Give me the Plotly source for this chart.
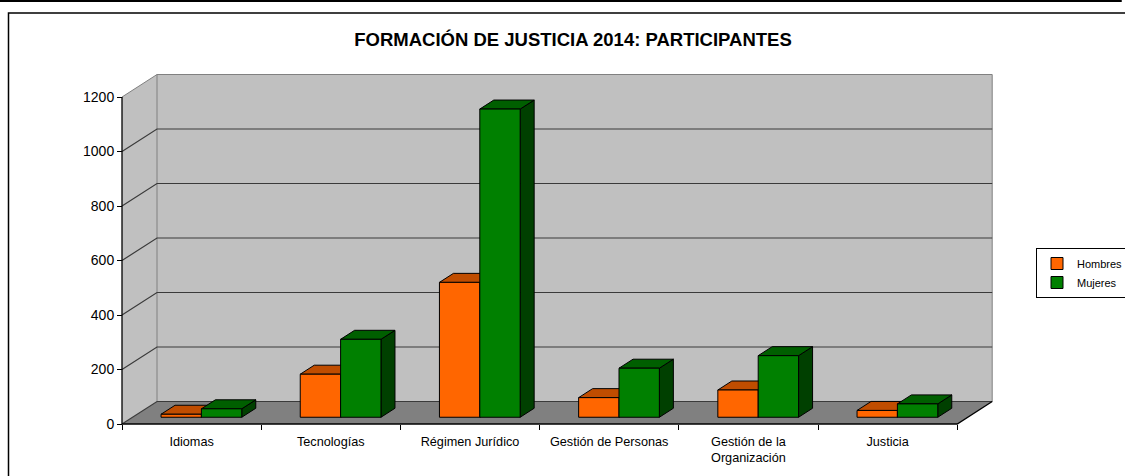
import plotly.graph_objects as go

# ---------------- data ----------------
categories = ["Idiomas", "Tecnologías", "Régimen Jurídico", "Gestión de Personas",
              "Gestión de la<br>Organización", "Justicia"]
series_names = ["Hombres", "Mujeres"]
hombres = [11, 158, 495, 72, 100, 25]
mujeres = [31, 286, 1131, 180, 226, 49]
y_ticks = [0, 200, 400, 600, 800, 1000, 1200]
title_text = "FORMACIÓN DE JUSTICIA 2014: PARTICIPANTES"

# ---------------- style / geometry ----------------
W, H = 1125, 476
PX_X = 139.2      # pixels per category
PX_Y = 0.2725     # pixels per unit
X0_PX, Y0_PX = 122, 424
PLOT_L, PLOT_R, PLOT_T, PLOT_B = 112, 1000, 60, 432
PW, PH = PLOT_R - PLOT_L, PLOT_B - PLOT_T

x_min = (PLOT_L - X0_PX) / PX_X
x_max = (PLOT_R - X0_PX) / PX_X
y_max = (Y0_PX - PLOT_T) / PX_Y
y_min = (Y0_PX - PLOT_B) / PX_Y

DX = 35 / PX_X
DY = 22.5 / PX_Y
YTOP = y_ticks[-1]
N = len(categories)

colors = {
    "Hombres": {"front": "#FF6600", "top": "#C04D00", "side": "#803300"},
    "Mujeres": {"front": "#008000", "top": "#005F00", "side": "#004000"},
}
FONT = "Liberation Sans, Arial, sans-serif"


def px2paper_x(px):
    return (px - PLOT_L) / PW


def px2paper_y(py):
    return (PLOT_B - py) / PH


fig = go.Figure()


def poly(xs, ys, fill, line_color=None, width=1):
    xs = list(xs) + [xs[0]]
    ys = list(ys) + [ys[0]]
    fig.add_trace(go.Scatter(
        x=xs, y=ys, mode="lines", fill="toself", fillcolor=fill,
        line=dict(color=line_color if line_color else fill, width=width if line_color else 0),
        showlegend=False, hoverinfo="skip"))


def line(xs, ys, color, width=1):
    fig.add_trace(go.Scatter(x=xs, y=ys, mode="lines",
                             line=dict(color=color, width=width),
                             showlegend=False, hoverinfo="skip"))


# walls and floor
poly([0, N, N + DX, DX], [0, 0, DY, DY], "#808080")
poly([0, DX, DX, 0], [0, DY, YTOP + DY, YTOP], "#C0C0C0")
poly([DX, N + DX, N + DX, DX], [DY, DY, YTOP + DY, YTOP + DY], "#C0C0C0", "#808080", 1)
line([0, DX], [YTOP, YTOP + DY], "#808080", 1)

# gridlines (side wall diagonals + back wall horizontals)
for t in y_ticks[:-1]:
    line([0, DX, N + DX], [t, t + DY, t + DY], "#3a3a3a", 1.2)

# front axis edges
line([0, N, N + DX], [0, 0, DY], "black", 1.3)
line([0, 0], [0, YTOP], "black", 1.3)

# bars
BX, BY = 0.3 * DX, 0.3 * DY
BDX, BDY = 0.4 * DX, 0.4 * DY
START, BW = 0.205, 0.29
for i in range(N):
    for k, (name, vals) in enumerate(zip(series_names, [hombres, mujeres])):
        v = vals[i]
        c = colors[name]
        x0 = i + START + k * BW + BX
        x1 = x0 + BW
        # side
        poly([x1, x1 + BDX, x1 + BDX, x1], [BY, BY + BDY, BY + v + BDY, BY + v], c["side"], "black", 1)
        # top
        poly([x0, x1, x1 + BDX, x0 + BDX], [BY + v, BY + v, BY + v + BDY, BY + v + BDY], c["top"], "black", 1)
        # front
        poly([x0, x1, x1, x0], [BY, BY, BY + v, BY + v], c["front"], "black", 1)

# legend entries
for name in series_names:
    fig.add_trace(go.Bar(x=[None], y=[None], name=name,
                         marker=dict(color=colors[name]["front"], line=dict(color="black", width=1))))

# frame shapes
shapes = [
    dict(type="line", xref="paper", yref="paper",
         x0=px2paper_x(0), x1=px2paper_x(1121), y0=px2paper_y(1), y1=px2paper_y(1),
         line=dict(color="black", width=2)),
    dict(type="line", xref="paper", yref="paper",
         x0=px2paper_x(1121), x1=px2paper_x(1121), y0=px2paper_y(-2), y1=px2paper_y(2),
         line=dict(color="black", width=1.5)),
    dict(type="rect", xref="paper", yref="paper",
         x0=px2paper_x(8.5), x1=px2paper_x(1140), y0=px2paper_y(13), y1=px2paper_y(495),
         line=dict(color="black", width=1.5), fillcolor="rgba(0,0,0,0)"),
]

fig.update_layout(
    width=W, height=H,
    margin=dict(l=PLOT_L, r=W - PLOT_R, t=PLOT_T, b=H - PLOT_B, autoexpand=False),
    paper_bgcolor="white", plot_bgcolor="white",
    font=dict(family=FONT, color="black"),
    title=dict(text="<b>" + title_text + "</b>", font=dict(size=18.5, family=FONT, color="black"),
               x=573 / W, xref="container", xanchor="center",
               y=1 - 40 / H, yref="container", yanchor="middle"),
    xaxis=dict(range=[x_min, x_max], anchor="free", position=px2paper_y(Y0_PX),
               tickmode="array", tickvals=[i + 0.5 for i in range(N)], ticktext=categories,
               ticks="", showgrid=False, zeroline=False, showline=False, ticklabelstandoff=8,
               tickfont=dict(size=12.7, family=FONT, color="black"),
               minor=dict(tickmode="array", tickvals=list(range(N + 1)), ticks="outside",
                          ticklen=5, tickcolor="black", tickwidth=1, showgrid=False)),
    yaxis=dict(range=[y_min, y_max], anchor="free", position=px2paper_x(X0_PX),
               tickmode="array", tickvals=y_ticks, ticks="outside", ticklen=5,
               tickcolor="black", tickwidth=1, showgrid=False, zeroline=False, showline=False,
               tickfont=dict(size=14, family=FONT, color="black")),
    showlegend=True,
    legend=dict(x=px2paper_x(1036), y=px2paper_y(248), xanchor="left", yanchor="top",
                bordercolor="black", borderwidth=1, bgcolor="white",
                font=dict(size=11, family=FONT, color="black")),
    shapes=shapes,
)

fig.write_html("out.html", config={"displayModeBar": False},
               post_script="document.body.style.margin='0px';")
